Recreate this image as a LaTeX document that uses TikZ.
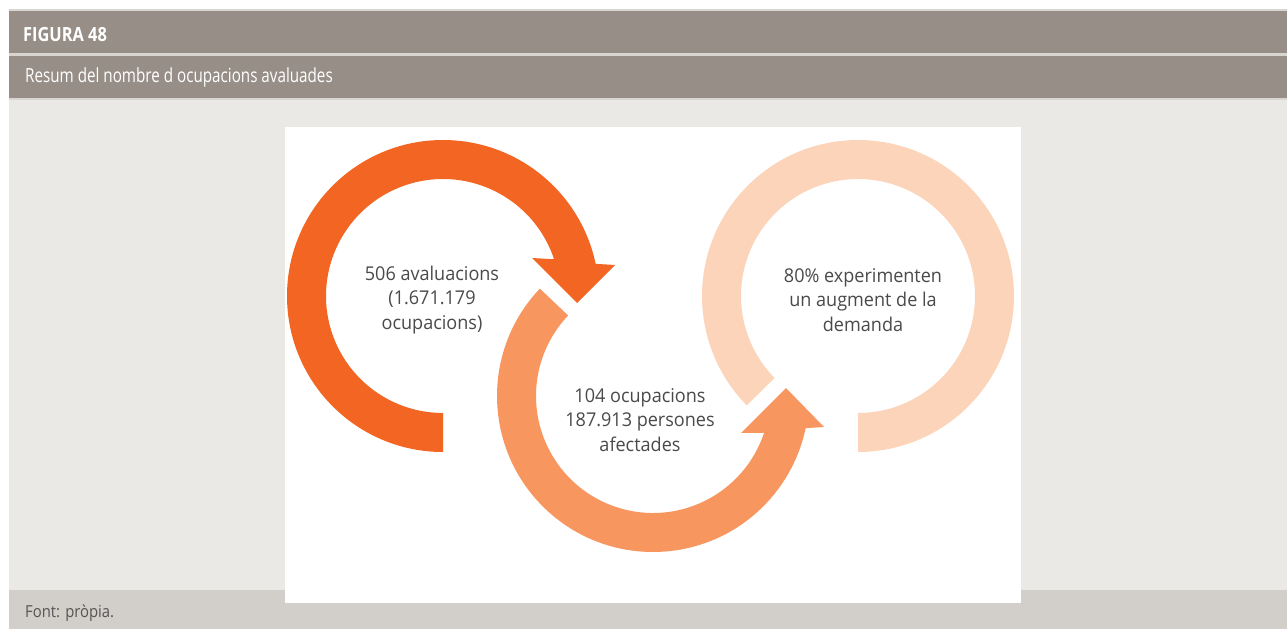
\documentclass[tikz,border=0pt]{standalone}
\usepackage{fontspec}
\usetikzlibrary{calc}
\setmainfont{Open Sans}
\newfontfamily\hdreg[FakeStretch=0.78]{Open Sans}
\newfontfamily\hdbold[FakeStretch=0.84]{Open Sans}
\newfontfamily\ftfont[FakeStretch=0.9]{Open Sans}
\newfontfamily\bodyfont[FakeStretch=0.95]{Open Sans}
\definecolor{band}{HTML}{978F87}
\definecolor{sepline}{HTML}{D9D5D0}
\definecolor{bgpanel}{HTML}{EBE9E6}
\definecolor{footbg}{HTML}{D2CEC9}
\definecolor{ringA}{HTML}{F26522}
\definecolor{ringB}{HTML}{F7965F}
\definecolor{ringC}{HTML}{FCD4BA}
\definecolor{bodytext}{HTML}{4A4A4A}
\definecolor{foottext}{HTML}{555555}
\begin{document}
\begin{tikzpicture}[x=1pt,y=1pt,yscale=-1,
  hdtitle/.style={anchor=base west,inner sep=0pt,text=white,font=\hdbold\bfseries\fontsize{19.5}{22}\selectfont},
  hdsub/.style={anchor=base west,inner sep=0pt,text=white,font=\hdreg\fontsize{19.5}{22}\selectfont},
  foot/.style={anchor=base west,inner sep=0pt,text=foottext,font=\ftfont\fontsize{16.5}{19}\selectfont},
  ringlabel/.style={align=center,inner sep=0pt,text=bodytext,font=\bodyfont\fontsize{19}{24.5}\selectfont}]
\useasboundingbox (0,0) rectangle (1287,629);
\fill[white] (0,0) rectangle (1287,629);
% header bands and backgrounds
\fill[sepline] (9,9) rectangle (1287,11);
\fill[band] (9,11) rectangle (1287,53);
\fill[sepline] (9,53) rectangle (1287,56);
\fill[band] (9,56) rectangle (1287,98);
\fill[sepline] (9,98) rectangle (1287,100);
\fill[bgpanel] (9,100) rectangle (1287,590);
\fill[footbg] (9,590) rectangle (1287,629);
\fill[white] (285,127) rectangle (1021,603);
% texts of the frame
\node[hdtitle] (title) at (23,41) {FIGURA 48};
\node[hdsub] (subtitle) at (25,82) {Resum del nombre d ocupacions avaluades};
\node[foot] (source) at (25,617) {Font: pròpia.};
% ring centres
\coordinate (c1) at (443,296);
\coordinate (c2) at (653,396);
\coordinate (c3) at (858,296);
% ring 1 (dark orange) with arrowhead
\fill[ringA] ($(c1)+(90:156)$) arc[start angle=90,end angle=348.1,radius=156]
  -- (615,265) -- (577,303) -- (532,258)
  -- ($(c1)+(341.7:117)$) arc[start angle=341.7,end angle=90,radius=117] -- cycle;
% ring 2 (medium orange) with arrowhead
\fill[ringB] ($(c2)+(223.5:156)$) arc[start angle=223.5,end angle=11.9,radius=156]
  -- (824,427) -- (786,388) -- (741,433)
  -- ($(c2)+(18.3:117)$) arc[start angle=18.3,end angle=223.5,radius=117] -- cycle;
% ring 3 (light orange)
\fill[ringC] ($(c3)+(135.5:156)$) arc[start angle=135.5,end angle=450,radius=156]
  -- ($(c3)+(90:117)$) arc[start angle=450,end angle=135.5,radius=117] -- cycle;
% ring labels
\node[ringlabel] (l1) at (432,300) {506 avaluacions\\(1.671.179\\ocupacions)};
\node[ringlabel] (l2) at (640,420) {104 ocupacions\\187.913 persones\\afectades};
\node[ringlabel] (l3) at (863,300) {80\% experimenten\\un augment de la\\demanda};
\end{tikzpicture}
\end{document}
